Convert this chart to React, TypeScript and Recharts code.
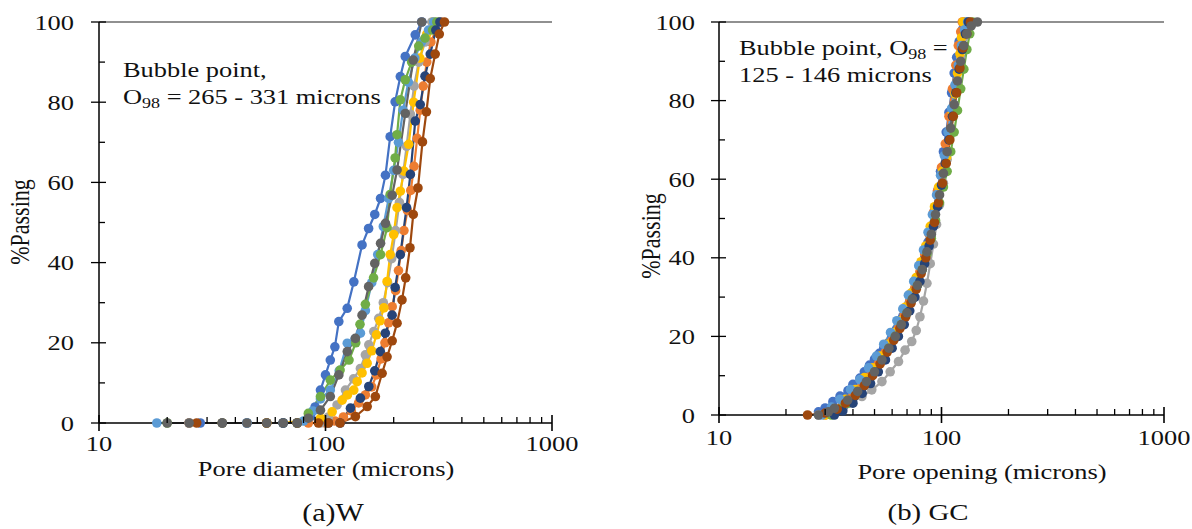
import React from 'react'
import { LineChart, Line, XAxis, YAxis, ReferenceLine } from 'recharts'

// series colours, Excel default palette order
const seriesColors = ['#4472C4', '#ED7D31', '#A5A5A5', '#FFC000', '#5B9BD5', '#70AD47', '#264478', '#9E480E', '#636363']

const yTicks = [0, 10, 20, 30, 40, 50, 60, 70, 80, 90, 100]
const xTicks = [10, 20, 30, 40, 50, 60, 70, 80, 90, 100, 200, 300, 400, 500, 600, 700, 800, 900, 1000]
const xMajor = [10, 100, 1000]

// (a) W : [pore diameter, %passing]
const w1 = [[28, 0], [45, 0], [65, 0], [75, 0], [86, 1.6], [90, 4], [95, 8.2], [100, 12], [105, 15.7], [110, 19], [114.5, 25.3], [124.7, 28.6], [133.4, 35.2], [145, 44.4], [155, 48.5], [165, 52], [175, 56], [184, 61.8], [193, 71.4], [203, 80.1], [214, 86.4], [225, 91.4], [249, 96.8], [266, 100]]
const w2 = [[25, 0], [55, 0], [84, 0], [100, 0], [110, 0.5], [120, 1.5], [130, 3], [140, 5], [150, 7], [160, 9], [168, 12], [176, 16], [183, 20], [190, 25], [197, 29], [204, 33], [210, 38], [216, 43], [222, 48], [230, 53], [238, 58], [246, 64], [254, 71], [262, 78], [270, 84], [280, 90], [292, 95], [307, 98], [322, 100]]
const w3 = [[25, 0], [45, 0], [75, 0], [95, 0], [103, 1.5], [112.5, 4.5], [122.5, 8.2], [133, 11], [142.6, 13.6], [150, 17], [155.3, 19.5], [163.3, 22.8], [171.8, 26.1], [180, 30], [188, 35], [196, 41], [204, 48], [212, 55], [220, 62], [228, 69], [237, 77], [246, 84], [258, 90], [275, 95], [295, 100]]
const w4 = [[35, 0], [65, 0], [95, 1.2], [107, 2.8], [118.4, 5.7], [125, 7], [133.3, 8.2], [138, 10.3], [145, 12.5], [152.7, 14.9], [160, 18], [168, 22], [174, 25.5], [181, 28.7], [187, 35.3], [193, 42], [200, 47], [207, 53.7], [214, 57.8], [222, 62.8], [233, 69.5], [245, 80], [261, 91], [280, 97], [300, 100]]
const w5 = [[18, 0], [45, 0], [65, 0], [75, 0], [80, 0.5], [88, 3], [95, 6], [105, 8.2], [115, 13], [124.8, 19.9], [135, 21], [142.6, 22.4], [150, 28], [160, 35], [170, 42], [180, 49], [190, 56], [200, 63], [210, 70], [220, 78], [232, 85], [248, 91], [265, 95], [285, 98], [300, 100]]
const w6 = [[20, 0], [55, 0], [75, 0], [84, 2.4], [95, 6.6], [105, 10.7], [116, 13.2], [127, 15.7], [136, 20], [142, 24.6], [150, 29.6], [163, 36.2], [175, 42], [187, 48.7], [193, 57], [203, 66.1], [207, 71.9], [214, 80.6], [225, 85.6], [240, 90], [258, 94], [275, 96], [297, 98], [310, 100]]
const w7 = [[35, 0], [65, 0], [103, 0], [116, 0], [128.9, 3.7], [142.6, 6.2], [155.3, 9.1], [165, 13], [174.6, 17.8], [183.7, 22.4], [196.8, 26.9], [203, 33.8], [214, 42], [228, 53.7], [237, 62], [249, 75.3], [262, 79.4], [275, 86.5], [290, 92], [307, 98], [320, 100]]
const w8 = [[27, 0], [55, 0], [75, 0], [93, 0], [103, 0], [116, 0], [135.5, 1.6], [152.8, 4.1], [166, 6.6], [177.8, 12.4], [187, 16.5], [197, 20.5], [207, 24.9], [217.6, 30.7], [226, 36.2], [236, 43.7], [244, 52], [256, 58.6], [268, 70.1], [279, 77.6], [290, 85.9], [305, 92], [318, 97], [335, 100]]
const w9 = [[20, 0], [25, 0], [35, 0], [45, 0], [55, 0], [65, 0], [75, 0], [84, 1.2], [95, 3.2], [105, 6.6], [114.5, 12], [124.8, 17.8], [135.5, 21.1], [145, 26.9], [155, 34], [165, 39.8], [175, 44.8], [184, 49.8], [197, 56.8], [207, 63.1], [225, 77.2], [244, 90.5], [266, 100]]

// (b) GC : [pore opening, %passing]
const g1 = [[28, 0.8], [30, 1.8], [32.5, 3.4], [35, 4.8], [38, 6.2], [40, 7.8], [43, 9.4], [45, 11], [47.5, 12.7], [50, 14.2], [52.6, 15.7], [55, 17], [57.4, 18.2], [60, 20], [62.5, 21.6], [65, 23.5], [67, 25], [70, 27.5], [72, 28.8], [75, 31.5], [78, 34], [81, 37], [84, 40], [87, 44], [90, 48], [93, 52], [96, 57], [99, 62], [102, 67], [105, 72], [108, 77], [111, 82], [114, 87], [117, 91], [120, 95], [124, 98], [127, 100]]
const g2 = [[30, 0], [33, 1.5], [36, 3], [40, 5], [44, 7.5], [48, 10], [52, 13], [56, 16], [60, 19], [64, 22], [68, 25.5], [72, 29], [76, 32.5], [80, 36.5], [84, 41], [88, 46], [92, 51.5], [96, 57], [100, 63], [104, 69], [108, 76], [112, 83], [116, 89], [119, 94], [122, 97.5], [124, 100]]
const g3 = [[28, 0], [33, 0.5], [36, 1.5], [38.8, 3], [43.9, 4.7], [48.6, 6.4], [54, 8.5], [58.8, 11], [64.1, 13.6], [68.6, 16.5], [73.5, 18.7], [77, 21.5], [80, 25], [83, 29], [86, 33.5], [89, 38.5], [92, 43.5], [95, 48.5], [98, 53.5], [102, 59], [106, 65], [110, 72], [114, 79], [118, 85], [122, 91], [126, 96], [130, 100]]
const g4 = [[30, 0], [33, 1.5], [37, 4], [41, 6.5], [45, 9.5], [49, 12], [53, 15], [57, 18], [61, 21], [65, 24], [69, 27.5], [73, 31], [77, 35], [81, 39], [85, 43], [89, 48], [93, 53], [97, 58], [101, 62], [105.4, 65.6], [109, 72.4], [112, 77], [115, 81.7], [118, 87], [121, 91.9], [123, 96], [125, 100]]
const g5 = [[29, 0], [32, 2], [35, 4], [39, 6.5], [43, 9], [47, 12], [51, 15], [55, 18], [59, 21], [63, 24], [67, 27], [71, 30.5], [75, 34], [79, 38], [83, 42], [87, 46.5], [91, 51], [95, 56], [99, 61], [103, 66], [107, 72], [111, 78], [115, 84], [119, 89], [123, 94], [127, 98], [131, 100]]
const g6 = [[32, 0], [35, 1.5], [38, 3], [42, 5.5], [46, 8], [50, 11], [54, 14], [58, 17], [62, 20], [66, 23], [70, 26], [74, 29.5], [78, 33], [82, 37], [86, 41], [90, 45], [94, 49.5], [98, 54], [102, 58], [106, 62], [110, 67], [114, 72], [118, 77.5], [122, 83], [126, 88], [130, 93], [134, 97], [138, 100]]
const g7 = [[33, 0], [36, 1], [40, 3], [44, 5.5], [48, 8], [52, 11], [56, 14], [60, 17], [64, 20], [68, 23], [72, 26.5], [76, 30], [80, 34], [84, 38.5], [88, 43], [92, 48], [96, 53], [100, 58.5], [104, 64], [108, 70], [112, 76], [116, 82], [120, 88], [124, 93], [128, 97], [132, 100]]
const g8 = [[25, 0], [30, 0.5], [34, 1.5], [37, 3], [41, 5], [45, 7.5], [49, 10], [53, 13], [57, 16], [61, 19], [65, 22], [69, 25], [73, 28.5], [77, 32], [81, 36], [85, 40], [89, 44.5], [93, 49], [97, 54], [101, 59], [105, 64], [109, 70], [113, 76], [117, 82], [121, 88.3], [125, 93.4], [130, 97], [135, 100]]
const g9 = [[28, 0], [31, 0.8], [33, 1.7], [37.9, 3.8], [42, 6], [46, 8.5], [50, 11], [54, 14], [58, 17], [62, 20], [66, 23], [70, 26], [74, 29.5], [78, 33], [82, 37], [86, 41.5], [90, 46], [94, 51], [98, 56], [102, 61.5], [106, 67], [110, 73], [114, 79], [118, 85], [122, 90], [126, 94], [130, 97], [136, 99], [145, 100]]

const wSeries = [w1, w2, w3, w4, w5, w6, w7, w8, w9]
const gSeries = [g1, g2, g3, g4, g5, g6, g7, g8, g9]

const FONT = 'Liberation Serif'
const SX = 1.2 // the source picture is stretched sideways

const toPts = (arr: number[][]) => arr.map(([x, y]) => ({ x, y }))

function YTick(props: any) {
  const { x, y, payload, gap } = props
  const v = payload.value
  if (v % 20 !== 0) {
    return <line x1={x} x2={x + 6} y1={y} y2={y} stroke="#000" strokeWidth={1.3} />
  }
  return (
    <g>
      <line x1={x - 8} x2={x + 7} y1={y} y2={y} stroke="#000" strokeWidth={1.3} />
      <text transform={`translate(${x - gap},${y}) scale(${SX},1)`} textAnchor="end" dominantBaseline="central"
        style={{ fontFamily: FONT }} fontSize={22} fill="#111">{v}</text>
    </g>
  )
}

function XTick(props: any) {
  const { x, y, payload, dy } = props
  const v = payload.value
  if (!xMajor.includes(v)) {
    return <line x1={x} x2={x} y1={y - 6} y2={y} stroke="#000" strokeWidth={1.3} />
  }
  return (
    <g>
      <line x1={x} x2={x} y1={y - 8} y2={y + 8} stroke="#000" strokeWidth={1.6} />
      <text transform={`translate(${x},${y + dy}) scale(${SX},1)`} textAnchor="middle"
        style={{ fontFamily: FONT }} fontSize={22} fill="#111">{v}</text>
    </g>
  )
}

function Panel({ series, width, height, right, xHeight, labelGap, xDy }: any) {
  return (
    <LineChart width={width} height={height} margin={{ top: 22, right, bottom: 0, left: 0 }}>
      <XAxis dataKey="x" type="number" scale="log" domain={[10, 1000]} ticks={xTicks} interval={0}
        height={xHeight} tickSize={0} tickMargin={0} tickLine={false} axisLine={{ stroke: '#000', strokeWidth: 1.5 }}
        tick={(p: any) => <XTick {...p} dy={xDy} />} />
      <YAxis type="number" domain={[0, 100]} ticks={yTicks} interval={0} width={99}
        tickSize={0} tickMargin={0} tickLine={false} axisLine={{ stroke: '#000', strokeWidth: 1.5 }}
        tick={(p: any) => <YTick {...p} gap={labelGap} />} />
      <ReferenceLine y={100} stroke="#6b6b6b" strokeWidth={1.5} />
      {series.map((s: number[][], i: number) => (
        <Line key={i} data={toPts(s)} dataKey="y" type="linear" stroke={seriesColors[i]} strokeWidth={2.2}
          dot={{ r: 4.8, fill: seriesColors[i], stroke: seriesColors[i], strokeWidth: 0 }}
          isAnimationActive={false} />
      ))}
    </LineChart>
  )
}

const txt = { style: { fontFamily: FONT }, fill: '#111' }

export default function App() {
  return (
    <div style={{ position: 'absolute', left: 0, top: 0, width: 1192, height: 529, background: '#fff' }}>
      <div style={{ position: 'absolute', left: 0, top: 0 }}>
        <Panel series={wSeries} width={600} height={529} right={48} xHeight={106} labelGap={25} xDy={28} />
      </div>
      <div style={{ position: 'absolute', left: 620, top: 0 }}>
        <Panel series={gSeries} width={572} height={529} right={28} xHeight={114} labelGap={24} xDy={30} />
      </div>
      <svg width={1192} height={529} style={{ position: 'absolute', left: 0, top: 0, pointerEvents: 'none' }}>
        {/* left panel texts */}
        <text transform="translate(29,222) rotate(-90) scale(1,1.2)" textAnchor="middle" fontSize={22} {...txt}>%Passing</text>
        <text transform={`translate(326,476) scale(${SX},1)`} textAnchor="middle" fontSize={22} {...txt}>Pore diameter (microns)</text>
        <text transform={`translate(333,521) scale(${SX},1)`} textAnchor="middle" fontSize={25} {...txt}>(a)W</text>
        <text transform={`translate(123,77) scale(${SX},1)`} fontSize={22} {...txt}>Bubble point,</text>
        <text transform={`translate(123,104) scale(${SX},1)`} fontSize={22} {...txt}>
          O<tspan fontSize={15} dy={4}>98</tspan><tspan dy={-4}> = 265 - 331 microns</tspan>
        </text>
        {/* right panel texts */}
        <text transform="translate(660,236) rotate(-90) scale(1,1.2)" textAnchor="middle" fontSize={22} {...txt}>%Passing</text>
        <text transform={`translate(982,479) scale(${SX},1)`} textAnchor="middle" fontSize={22} {...txt}>Pore opening  (microns)</text>
        <text transform={`translate(928,520) scale(${SX},1)`} textAnchor="middle" fontSize={24} {...txt}>(b) GC</text>
        <text transform={`translate(739,55) scale(${SX},1)`} fontSize={22} {...txt}>
          Bubble point, O<tspan fontSize={15} dy={4}>98</tspan><tspan dy={-4}> =</tspan>
        </text>
        <text transform={`translate(739,82) scale(${SX},1)`} fontSize={22} {...txt}>125 - 146 microns</text>
      </svg>
    </div>
  )
}
